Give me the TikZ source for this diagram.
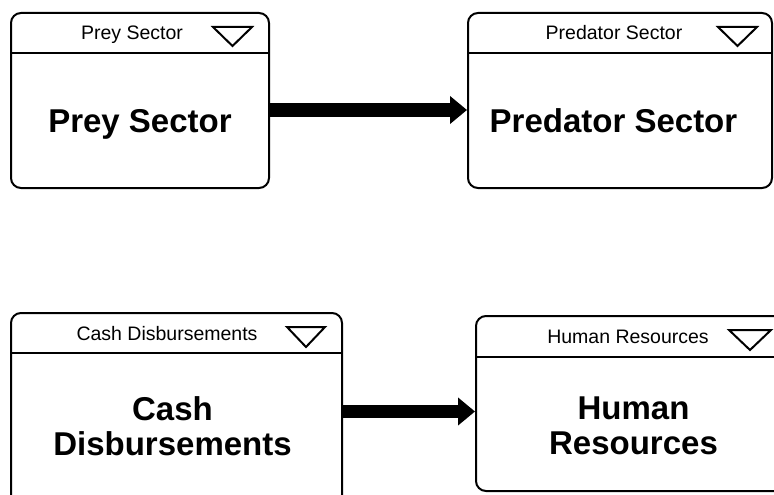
\documentclass[tikz,border=0pt]{standalone}
\usepackage{fontspec}
\setmainfont{Liberation Sans}
\usetikzlibrary{arrows.meta}
\begin{document}
\begin{tikzpicture}[x=1pt,y=-1pt,
  sector/.style={draw, line width=2pt, rounded corners=10pt, rectangle, inner sep=0pt},
  hdr/.style={font=\fontsize{19.5}{20}\selectfont, anchor=base, inner sep=0pt},
  ttl/.style={font=\bfseries\fontsize{33}{35}\selectfont, align=center, inner sep=0pt},
  flow/.style={line width=13.5pt, -{Triangle[length=17pt,width=27pt]}},
  sep/.style={line width=2pt},
  tri/.style={line width=2pt, line join=miter}]
\useasboundingbox (0,0) rectangle (774,495);
\clip (0,0) rectangle (774,495);
% boxes
\node[sector, minimum width=258pt, minimum height=175pt] (prey) at (140,100.5) {};
\node[sector, minimum width=304pt, minimum height=175pt] (pred) at (620,100.5) {};
\node[sector, minimum width=331pt, minimum height=192pt] (cash) at (176.5,409) {};
\node[sector, minimum width=312pt, minimum height=175pt] (hum) at (632,403.5) {};
% header separators
\draw[sep] (prey.west |- 0,53) -- (prey.east |- 0,53);
\draw[sep] (pred.west |- 0,53) -- (pred.east |- 0,53);
\draw[sep] (cash.west |- 0,353) -- (cash.east |- 0,353);
\draw[sep] (hum.west |- 0,357) -- (hum.east |- 0,357);
% header texts
\node[hdr] (preyh) at (132,40) {Prey Sector};
\node[hdr] (predh) at (614,40) {Predator Sector};
\node[hdr] (cashh) at (167,340) {Cash Disbursements};
\node[hdr] (humh) at (628,343) {Human Resources};
% triangles
\draw[tri] (213,27) -- (252,27) -- (232.5,46) -- cycle;
\draw[tri] (718,27) -- (757,27) -- (737.5,46) -- cycle;
\draw[tri] (287,327) -- (325,327) -- (306,347) -- cycle;
\draw[tri] (729,330) -- (771,330) -- (750,350) -- cycle;
% titles
\node[ttl, anchor=base] (preyt) at (140,132) {Prey Sector};
\node[ttl, anchor=base] (predt) at (613.5,132) {Predator Sector};
\node[ttl] (casht) at (172.5,426) {Cash\\Disbursements};
\node[ttl] (humt) at (633.5,426) {Human\\Resources};
% connectors
\draw[flow] ([yshift=-9.5pt]prey.east) -- ([yshift=-9.5pt]prey.east -| pred.west);
\draw[flow] ([yshift=-2.5pt]cash.east) -- ([yshift=-2.5pt]cash.east -| hum.west);
\end{tikzpicture}
\end{document}
